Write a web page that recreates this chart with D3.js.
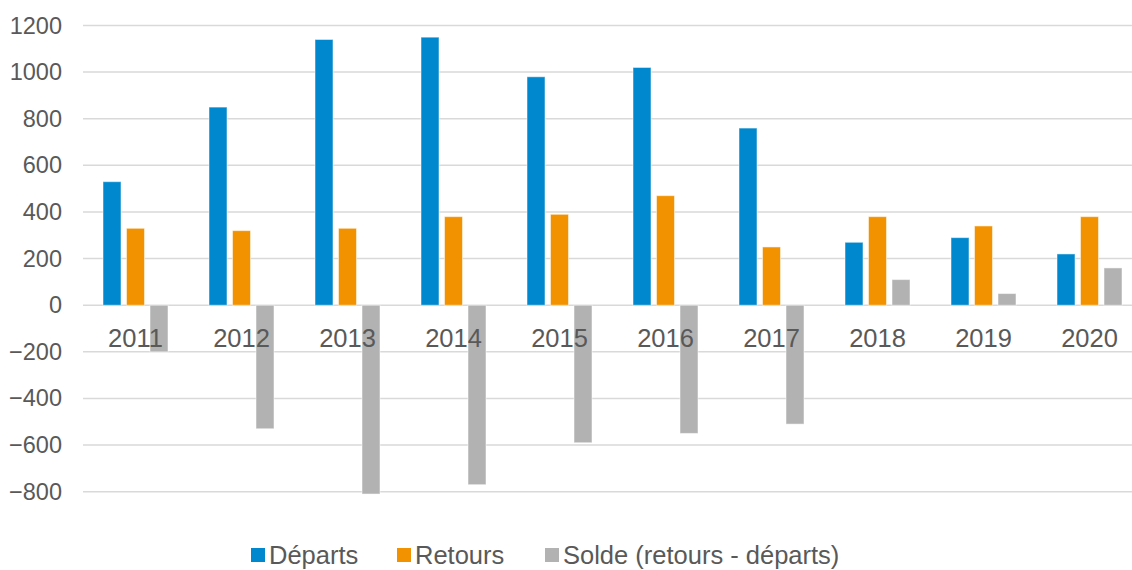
<!DOCTYPE html>
<html>
<head>
<meta charset="utf-8">
<script src="https://cdn.jsdelivr.net/npm/d3@7"></script>
<style>
  body { margin: 0; background: #fff; }
  svg { display: block; font-family: "Liberation Sans", Arial, sans-serif; }
</style>
</head>
<body>
<svg id="chart" width="1132" height="570"></svg>
<script>
// données
var years = ["2011", "2012", "2013", "2014", "2015", "2016", "2017", "2018", "2019", "2020"];
var departs = [530, 850, 1140, 1150, 980, 1020, 760, 270, 290, 220];
var retours = [330, 320, 330, 380, 390, 470, 250, 380, 340, 380];
var solde = [-200, -530, -810, -770, -590, -550, -510, 110, 50, 160];
var seriesNames = ["Départs", "Retours", "Solde (retours - départs)"];
var seriesColors = ["#0088ce", "#f39200", "#b2b2b2"];
var yTicks = [-800, -600, -400, -200, 0, 200, 400, 600, 800, 1000, 1200];

var allSeries = [departs, retours, solde];

var svg = d3.select("#chart");

var y = d3.scaleLinear().domain([-800, 1200]).range([491.7, 25.5]);

var x0 = d3.scaleBand().domain(years).range([82.5, 1142.5]);
var x1 = d3.scaleBand().domain(d3.range(3)).range([20.5, 85.5]).paddingInner(0.234);

// grille
svg.append("g")
  .selectAll("line")
  .data(yTicks)
  .enter()
  .append("line")
  .attr("x1", 83)
  .attr("x2", 1132)
  .attr("y1", d => y(d))
  .attr("y2", d => y(d))
  .style("stroke", "#d9d9d9")
  .style("stroke-width", 1.5);

// étiquettes de l'axe vertical
var yAxis = d3.axisLeft(y).tickValues(yTicks).tickSize(0).tickPadding(0).tickFormat(d3.format("d"));
var yg = svg.append("g").attr("transform", "translate(62,0)").call(yAxis);
yg.select(".domain").remove();
yg.selectAll("text")
  .style("font-size", "23.5px")
  .style("fill", "#595959")
  .style("font-family", "'Liberation Sans', Arial, sans-serif");

// barres
var groups = svg.append("g")
  .selectAll("g")
  .data(years)
  .enter()
  .append("g")
  .attr("transform", d => "translate(" + x0(d) + ",0)");

groups.selectAll("rect")
  .data((d, i) => allSeries.map((s, k) => ({ k: k, v: s[i] })))
  .enter()
  .append("rect")
  .attr("x", d => x1(d.k))
  .attr("width", x1.bandwidth())
  .attr("y", d => y(Math.max(0, d.v)))
  .attr("height", d => Math.abs(y(d.v) - y(0)))
  .style("fill", d => seriesColors[d.k])
  .style("stroke", "#ffffff")
  .style("stroke-opacity", 0.5)
  .style("stroke-width", 1);

// étiquettes des catégories
var xAxis = d3.axisBottom(x0).tickSize(0).tickPadding(0);
var xg = svg.append("g").attr("transform", "translate(0,346.5)").call(xAxis);
xg.select(".domain").remove();
xg.selectAll("text")
  .attr("dy", 0)
  .style("font-size", "25.5px")
  .style("fill", "#595959")
  .style("font-family", "'Liberation Sans', Arial, sans-serif");

// légende
var legendX = [251, 397, 545];
var legend = svg.append("g")
  .selectAll("g")
  .data(seriesNames)
  .enter()
  .append("g")
  .attr("transform", (d, i) => "translate(" + legendX[i] + ",0)");

legend.append("rect")
  .attr("x", 0)
  .attr("y", 548)
  .attr("width", 14)
  .attr("height", 14)
  .style("fill", (d, i) => seriesColors[i]);

legend.append("text")
  .attr("x", 18)
  .attr("y", 564)
  .text(d => d)
  .style("font-size", "25.5px")
  .style("fill", "#595959");
</script>
</body>
</html>
